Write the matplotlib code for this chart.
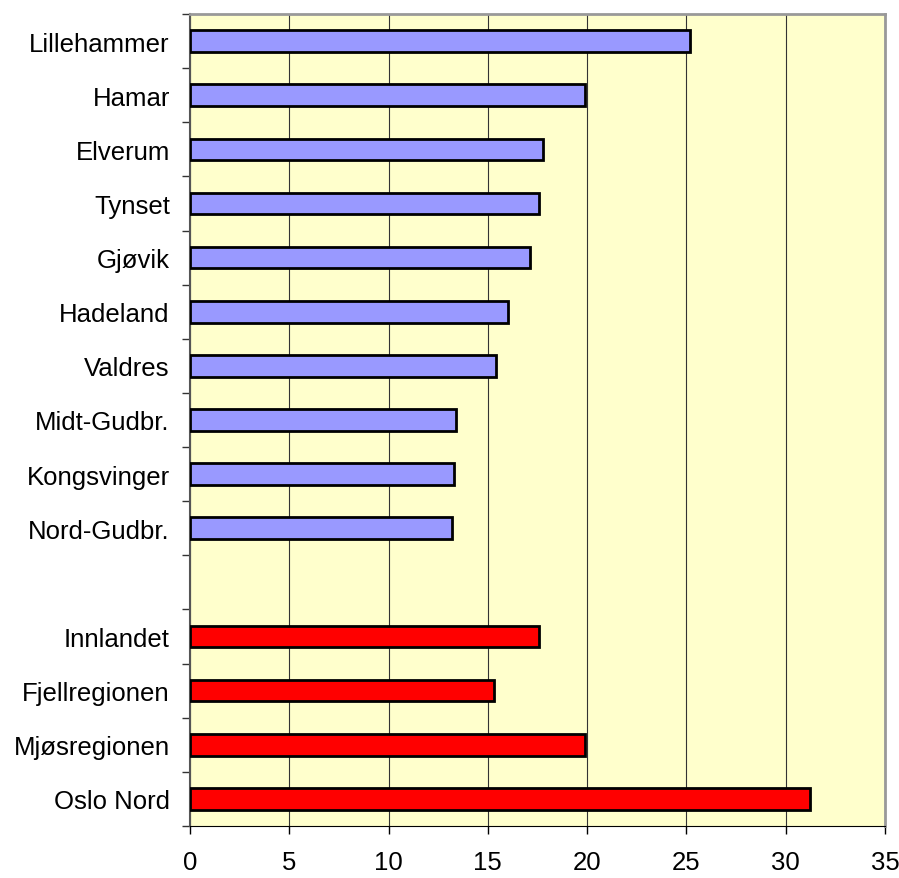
#!/usr/bin/env python
"""regional bar chart, Innlandet"""

import numpy as np
from matplotlib import pyplot as plt
from matplotlib.ticker import FixedLocator

plt.rcParams['font.family'] = ['Liberation Sans', 'DejaVu Sans']

# top to bottom, blank slot separates the two groups
labels = ["Lillehammer", "Hamar", "Elverum", "Tynset", "Gjøvik", "Hadeland",
          "Valdres", "Midt-Gudbr.", "Kongsvinger", "Nord-Gudbr.", "",
          "Innlandet", "Fjellregionen", "Mjøsregionen", "Oslo Nord"]
values = [25.2, 19.9, 17.8, 17.6, 17.1, 16.0,
          15.4, 13.4, 13.3, 13.2, np.nan,
          17.6, 15.3, 19.9, 31.2]
colors = ["#9999FF"] * 10 + ["none"] + ["#FF0000"] * 4

fig = plt.figure(figsize=(8.99, 8.79), dpi=100)
ax = fig.add_axes([0.2113, 0.0592, 0.7731, 0.9237])
ax.set_facecolor("#FFFFCC")

y = np.arange(len(labels))
ax.barh(y, np.nan_to_num(values), height=0.4, color=colors,
        edgecolor=["black"] * 10 + ["none"] + ["black"] * 4, linewidth=2, zorder=3)

ax.set_xlim(0, 35)
ax.set_ylim(len(labels) - 0.5, -0.5)
ax.set_xticks(np.arange(0, 36, 5))
ax.xaxis.grid(True, color="#333333", linewidth=0.8, zorder=0)

ax.set_yticks(y)
ax.set_yticklabels(labels)
ax.yaxis.set_minor_locator(FixedLocator(np.arange(-0.5, len(labels), 1)))
ax.tick_params(axis="y", which="major", length=0, pad=14.5, labelsize=18.5)
ax.tick_params(axis="y", which="minor", length=6, width=1, direction="out", color="#333333")
ax.tick_params(axis="x", length=6, width=1, direction="out", pad=11, labelsize=18.5)

for s in ["top", "right"]:
    ax.spines[s].set_color("#999999")
    ax.spines[s].set_linewidth(2)
ax.spines["left"].set_color("#555555")
ax.spines["left"].set_linewidth(1.5)
ax.spines["bottom"].set_color("black")

plt.savefig("out.png", dpi=100)
